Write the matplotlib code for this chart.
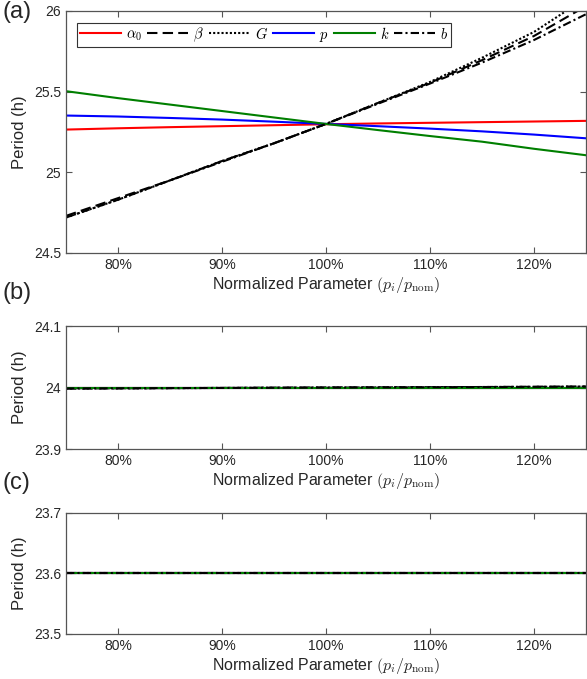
import numpy as np
import matplotlib
matplotlib.use("Agg")
import matplotlib.pyplot as plt
from matplotlib.ticker import FuncFormatter

plt.rcParams["font.family"] = ["Liberation Sans", "DejaVu Sans"]
plt.rcParams["mathtext.fontset"] = "cm"

# --- data ---------------------------------------------------------------
x = [0.75, 0.80, 0.85, 0.90, 0.95, 1.00, 1.05, 1.10, 1.15, 1.20, 1.25]

# panel (a)
a_alpha0 = [25.265, 25.273, 25.280, 25.286, 25.292, 25.298, 25.303, 25.307, 25.311, 25.315, 25.319]
a_beta   = [24.73, 24.84, 24.95, 25.07, 25.18, 25.30, 25.43, 25.555, 25.695, 25.845, 26.03]
a_G      = [24.72, 24.83, 24.95, 25.07, 25.18, 25.30, 25.43, 25.56, 25.71, 25.87, 26.08]
a_p      = [25.352, 25.346, 25.337, 25.327, 25.314, 25.300, 25.286, 25.271, 25.254, 25.234, 25.211]
a_k      = [25.503, 25.460, 25.420, 25.380, 25.340, 25.300, 25.262, 25.225, 25.190, 25.146, 25.106]
a_b      = [24.72, 24.83, 24.95, 25.065, 25.18, 25.30, 25.425, 25.55, 25.68, 25.82, 25.98]

# panel (b)
b_alpha0 = [24.0000] * 11
b_beta   = [23.9985, 23.9988, 23.9991, 23.9994, 23.9997, 24.0000, 24.0003, 24.0006, 24.0009, 24.0012, 24.0015]
b_G      = [23.9985, 23.9988, 23.9991, 23.9994, 23.9997, 24.0000, 24.0003, 24.0006, 24.0009, 24.0012, 24.0016]
b_p      = [24.0000] * 11
b_k      = [24.0000] * 11
b_b      = [23.9985, 23.9988, 23.9991, 23.9994, 23.9997, 24.0000, 24.0003, 24.0006, 24.0009, 24.0012, 24.0015]

# panel (c)
c_alpha0 = [23.6] * 11
c_beta   = [23.6] * 11
c_G      = [23.6] * 11
c_p      = [23.6] * 11
c_k      = [23.6] * 11
c_b      = [23.6] * 11

labels = [r"$\alpha_0$", r"$\beta$", r"$G$", r"$p$", r"$k$", r"$b$"]
styles = [("#ff0000", "-"), ("k", (0, (5, 2.5))), ("k", (0, (1, 1))), ("#0000ff", "-"),
          ("#007f00", "-"), ("k", (0, (4, 1.5, 1, 1.5)))]

panels = [
    ("(a)", [a_alpha0, a_beta, a_G, a_p, a_k, a_b], (24.5, 26), [24.5, 25, 25.5, 26]),
    ("(b)", [b_alpha0, b_beta, b_G, b_p, b_k, b_b], (23.9, 24.1), [23.9, 24, 24.1]),
    ("(c)", [c_alpha0, c_beta, c_G, c_p, c_k, c_b], (23.5, 23.7), [23.5, 23.6, 23.7]),
]

# axes rectangles in figure fraction (left, bottom, width, height)
rects = [
    (0.1124, 0.6274, 0.8858, 0.3564),
    (0.1124, 0.3387, 0.8858, 0.1810),
    (0.1124, 0.0663, 0.8858, 0.1782),
]
tag_y = [0.982, 0.5685, 0.2887]

fig = plt.figure(figsize=(5.87, 6.79), dpi=100)
axc = "#555555"
txc = "#262626"

for (tag, series, ylim, yticks), rect, ty in zip(panels, rects, tag_y):
    ax = fig.add_axes(rect)
    for ys, lab, (col, ls) in zip(series, labels, styles):
        ax.plot(x, ys, color=col, linestyle=ls, lw=1.5, label=lab)
    ax.set_xlim(0.75, 1.25)
    ax.set_ylim(*ylim)
    ax.set_xticks([0.8, 0.9, 1.0, 1.1, 1.2])
    ax.xaxis.set_major_formatter(FuncFormatter(lambda v, _: f"{v*100:.0f}%"))
    ax.set_yticks(yticks)
    ax.yaxis.set_major_formatter(FuncFormatter(lambda v, _: f"{v:g}"))
    ax.tick_params(direction="in", top=True, right=True, length=4, width=0.8,
                   color=axc, labelcolor=txc, labelsize=10)
    for s in ax.spines.values():
        s.set_color(axc)
        s.set_linewidth(0.9)
    ax.set_xlabel(r"Normalized Parameter $(p_i/p_\mathrm{nom})$", fontsize=11.5, color=txc, labelpad=2)
    ax.set_ylabel("Period (h)", fontsize=12, color=txc, labelpad=5)
    fig.text(0.004, ty, tag, fontsize=17, color=txc, va="center", ha="left")
    if tag == "(a)":
        leg = ax.legend(loc="upper left", bbox_to_anchor=(0.022, 0.952), ncol=6, fontsize=10.5,
                        handlelength=2.8, handletextpad=0.35, columnspacing=0.35,
                        borderpad=0.2, borderaxespad=0, fancybox=False, framealpha=1)
        leg.get_frame().set_edgecolor("#333333")
        leg.get_frame().set_linewidth(0.8)

fig.savefig("out.png", dpi=100)
